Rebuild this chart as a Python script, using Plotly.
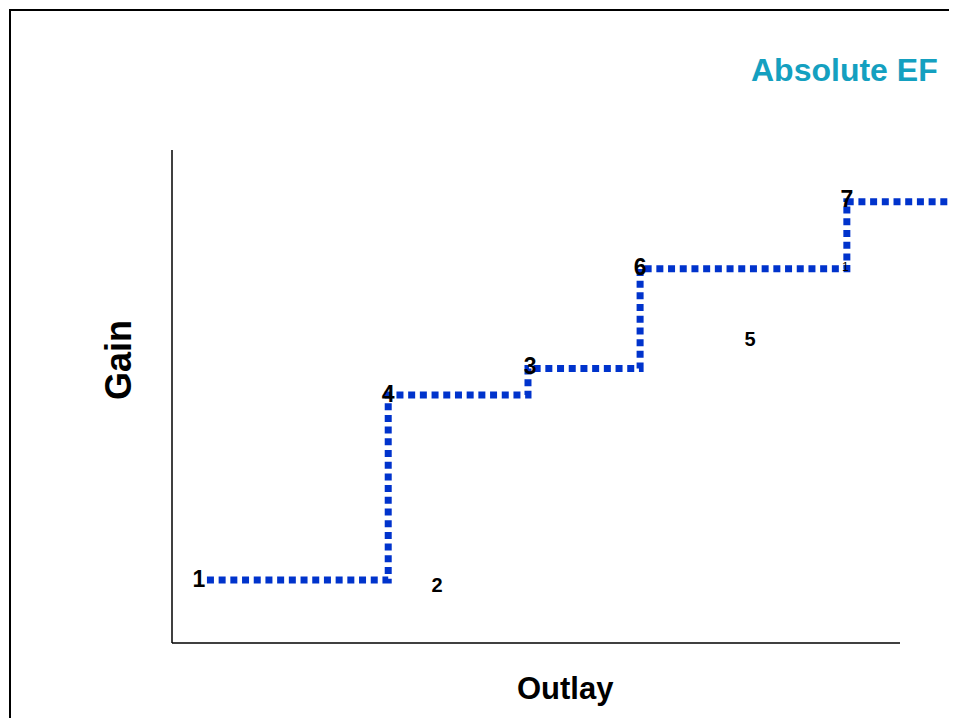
import plotly.graph_objects as go

# ---- data ----
point_labels = ["1", "2", "3", "4", "5", "6", "7"]
point_outlay = [3.7, 36.4, 49.2, 29.7, 79.4, 64.3, 92.7]
point_gain = [12.6, 11.4, 55.8, 50.1, 61.3, 75.9, 89.7]
point_size = [23, 20, 23, 23, 20, 23, 23]

# efficient frontier (step line) corners
frontier_outlay = [4.8, 29.7, 48.9, 64.3, 92.7, 115.0]
frontier_gain = [12.8, 50.3, 55.7, 75.9, 89.5, 89.5]

# small note label
note_text = ["1"]
note_outlay = [92.5]
note_gain = [76.0]

title_text = "Absolute EF"
x_title = "Outlay"
y_title = "Gain"

# ---- geometry (pixels, in reference-screenshot coordinates) ----
OFF = 8                       # page body margin
W, H = 957 - OFF, 726 - 2 * OFF
AX_L, AX_T, AX_B = 172, 150, 643   # plot area edges in screenshot pixels
L = AX_L - OFF
T = AX_T - OFF
B = (H + OFF) - AX_B
R = 0
pw = W - L - R
ph = H - T - B
x_max = 107.83 * (pw / 785.0)


def px(xp):
    return (xp - AX_L) / pw


def py(yp):
    return (AX_B - yp) / ph


fig = go.Figure()

fig.add_trace(go.Scatter(
    x=frontier_outlay, y=frontier_gain, mode="lines", line_shape="hv",
    line=dict(color="#0033cc", width=7, dash="7px,4.7px"),
    hoverinfo="skip", showlegend=False, cliponaxis=True,
))

fig.add_trace(go.Scatter(
    x=point_outlay, y=point_gain, mode="text", text=point_labels,
    textposition="middle center",
    textfont=dict(family="Liberation Sans, Arial, sans-serif", size=point_size,
                  color="black", weight="bold"),
    showlegend=False, cliponaxis=False,
))

fig.add_trace(go.Scatter(
    x=note_outlay, y=note_gain, mode="text", text=note_text,
    textposition="middle center",
    textfont=dict(family="Liberation Sans, Arial, sans-serif", size=12, color="black"),
    showlegend=False, cliponaxis=False,
))

shapes = [
    # outer border (left and top visible)
    dict(type="rect", xref="paper", yref="paper",
         x0=px(10), x1=px(1000), y0=py(800), y1=py(10),
         line=dict(color="black", width=2), fillcolor="rgba(0,0,0,0)", layer="below"),
    # y axis line
    dict(type="line", xref="paper", yref="paper", x0=0, x1=0, y0=0, y1=1,
         line=dict(color="black", width=1.5)),
    # x axis line
    dict(type="line", xref="paper", yref="paper", x0=0, x1=px(900), y0=0, y1=0,
         line=dict(color="black", width=1.5)),
]

annotations = [
    dict(text=title_text, xref="paper", yref="paper", x=px(940), y=py(70),
         xanchor="right", yanchor="middle", showarrow=False,
         font=dict(family="Liberation Sans, Arial, sans-serif", size=32,
                   color="#14a0c0", weight="bold")),
    dict(text=y_title, xref="paper", yref="paper", x=px(118), y=py(360),
         xanchor="center", yanchor="middle", showarrow=False, textangle=-90,
         font=dict(family="Liberation Sans, Arial, sans-serif", size=36,
                   color="black", weight="bold")),
    dict(text=x_title, xref="paper", yref="paper", x=px(565), y=py(688),
         xanchor="center", yanchor="middle", showarrow=False,
         font=dict(family="Liberation Sans, Arial, sans-serif", size=31,
                   color="black", weight="bold")),
]

fig.update_layout(
    width=W, height=H,
    margin=dict(l=L, r=R, t=T, b=B, pad=0),
    paper_bgcolor="white", plot_bgcolor="white",
    shapes=shapes, annotations=annotations,
    xaxis=dict(range=[0, x_max], showgrid=False, zeroline=False, showline=False,
               showticklabels=False, ticks=""),
    yaxis=dict(range=[0, 100], showgrid=False, zeroline=False, showline=False,
               showticklabels=False, ticks=""),
    showlegend=False,
)

fig.write_html("out.html")
